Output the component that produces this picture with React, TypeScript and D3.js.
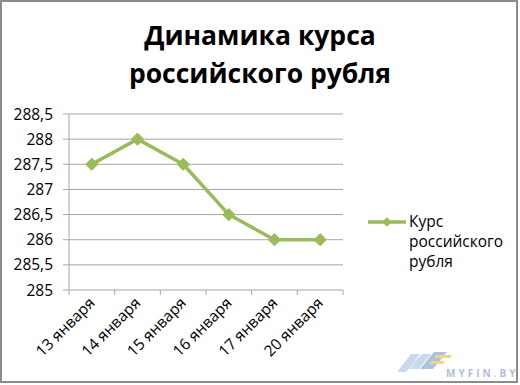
import React from "react";
import * as d3 from "d3";

const categories = ["13 января", "14 января", "15 января", "16 января", "17 января", "20 января"];
const values = [287.5, 288, 287.5, 286.5, 286, 286];
const yTicks = [285, 285.5, 286, 286.5, 287, 287.5, 288, 288.5];
const titleLines = ["Динамика курса", "российского рубля"];
const seriesName = ["Курс", "российского", "рубля"];

const W = 520;
const H = 385;
const FONT = "'Open Sans', 'Noto Sans', sans-serif";
const GREEN = "#9bbb59";
const GRID = "#a6a6a6";

export default function App() {
  const x = d3.scaleBand<string>().domain(categories).range([69, 343]);
  const y = d3.scaleLinear().domain([285, 288.5]).range([290, 114]);
  const line = d3
    .line<number>()
    .x((_, i) => (x(categories[i]) as number) + x.bandwidth() / 2)
    .y((d) => y(d));
  const diamond = d3.symbol().type(d3.symbolDiamond2).size(95)() as string;
  const fmt = (v: number) => String(v).replace(".", ",");

  return (
    <svg
      width={W}
      height={H}
      style={{ position: "absolute", left: 0, top: 0, background: "#fff" }}
      fontFamily={FONT}
    >
      <rect x={1} y={1} width={516} height={381} fill="#fff" stroke="#8c8c8c" strokeWidth={2} />
      {titleLines.map((t, i) => (
        <text key={t} x={260} y={45 + i * 38} textAnchor="middle" fontWeight="bold" fontSize={26.5} fill="#000">
          {t}
        </text>
      ))}
      {yTicks.map((t) => (
        <g key={t}>
          <line x1={63} x2={343} y1={y(t)} y2={y(t)} stroke={GRID} strokeWidth={1} />
          <text x={53} y={y(t) + 5.5} textAnchor="end" fontSize={15.5} fill="#000">
            {fmt(t)}
          </text>
        </g>
      ))}
      <line x1={69} x2={69} y1={114} y2={290} stroke={GRID} />
      {[...categories.map((c) => x(c) as number), 343].map((xx, i) => (
        <line key={i} x1={xx} x2={xx} y1={290} y2={295} stroke={GRID} />
      ))}
      {categories.map((c) => {
        const cx = (x(c) as number) + x.bandwidth() / 2 + 4;
        const cy = 304;
        return (
          <text key={c} x={cx} y={cy} textAnchor="end" fontSize={15.5} fill="#000" transform={`rotate(-45 ${cx} ${cy})`}>
            {c}
          </text>
        );
      })}
      <path d={line(values) as string} fill="none" stroke={GREEN} strokeWidth={3.5} strokeLinejoin="round" />
      {values.map((v, i) => (
        <path
          key={i}
          d={diamond}
          transform={`translate(${(x(categories[i]) as number) + x.bandwidth() / 2},${y(v)})`}
          fill={GREEN}
          stroke={GREEN}
        />
      ))}
      <line x1={368} x2={406} y1={222} y2={222} stroke={GREEN} strokeWidth={3.5} />
      <path d={d3.symbol().type(d3.symbolDiamond2).size(60)() as string} transform="translate(387,222)" fill={GREEN} />
      {seriesName.map((s, i) => (
        <text key={s} x={409} y={227 + i * 20} fontSize={15.5} fill="#000">
          {s}
        </text>
      ))}
      <g opacity={0.7}>
        <polygon points="397,372 411,354 420,354 413,363 422,354 431,354 419,369 410,369 415,362 406,372" fill="#b3cbe9" />
        <polygon points="420,369 434,352 447,352 433,369" fill="#86abd9" />
        <polygon points="436,355 452,355 450,358 434,358" fill="#f2c14e" />
        <polygon points="431,361 445,361 443,364 429,364" fill="#f2c14e" />
        <text x={446} y={377} fontSize={10} letterSpacing={3} fill="#8fa3c9" fontWeight="bold">
          MYFIN<tspan fill="#f2c14e">.</tspan>BY
        </text>
      </g>
    </svg>
  );
}
